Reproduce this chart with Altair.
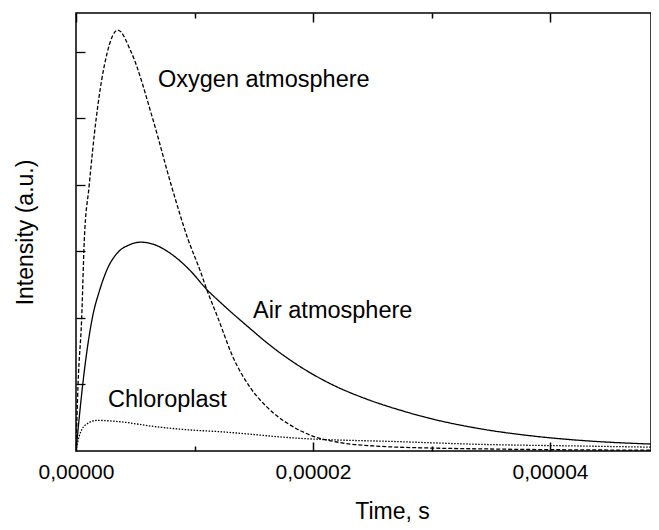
import altair as alt
import pandas as pd

# ---- data (time in s, intensity in a.u.) ----
oxygen_t = [0, 0.17e-6, 0.48e-6, 0.70e-6, 1.10e-6, 1.69e-6, 2.62e-6, 3.52e-6, 4.70e-6,
            6.50e-6, 8.08e-6, 9.48e-6, 10.46e-6, 11.03e-6, 11.98e-6, 13.25e-6, 14.68e-6,
            16.12e-6, 17.81e-6, 19.75e-6, 22.53e-6, 25.7e-6, 29.9e-6, 35.0e-6, 40.0e-6, 49.2e-6]
oxygen_v = [0, 0.99, 2.00, 3.17, 3.97, 4.98, 5.98, 6.33, 5.98,
            4.98, 3.97, 3.17, 2.72, 2.43, 2.00, 1.41, 0.96,
            0.66, 0.42, 0.24, 0.12, 0.07, 0.045, 0.03, 0.02, 0.012]

air_t = [0, 0.3e-6, 0.6e-6, 1.0e-6, 1.4e-6, 2.0e-6, 2.7e-6, 3.5e-6, 4.5e-6, 5.5e-6,
         6.5e-6, 7.9e-6, 9.6e-6, 11.03e-6, 12.15e-6, 13.27e-6, 14.7e-6, 16.09e-6,
         18.90e-6, 21.71e-6, 24.53e-6, 27.34e-6, 29.87e-6, 34.09e-6, 38.31e-6,
         42.53e-6, 49.2e-6]
air_v = [0, 0.55, 1.05, 1.60, 2.02, 2.42, 2.76, 2.98, 3.10, 3.14,
         3.11, 2.98, 2.72, 2.43, 2.24, 2.06, 1.84, 1.63,
         1.27, 0.99, 0.78, 0.615, 0.49, 0.335, 0.23,
         0.16, 0.10]

chloro_t = [0, 0.25e-6, 0.48e-6, 1.04e-6, 1.75e-6, 3.71e-6, 6.52e-6, 9.34e-6, 12.15e-6,
            18.9e-6, 27.34e-6, 34.1e-6, 42.5e-6, 49.2e-6]
chloro_v = [0, 0.21, 0.32, 0.42, 0.46, 0.44, 0.37, 0.32, 0.29,
            0.19, 0.14, 0.10, 0.075, 0.056]

series_names = ["Oxygen atmosphere", "Air atmosphere", "Chloroplast"]

label_text = ["Oxygen atmosphere", "Air atmosphere", "Chloroplast"]
label_t = [6.92e-6, 14.94e-6, 2.70e-6]
label_v = [5.47, 2.00, 0.66]

x_major = [0, 0.00002, 0.00004]
x_minor = [0.00001, 0.00003]
y_ticks = [1, 2, 3, 4, 5, 6]
x_domain = [0, 4.852e-5]
y_domain = [0, 6.586]

# ---- tables ----
rows = []
for name, ts, vs in zip(series_names, [oxygen_t, air_t, chloro_t], [oxygen_v, air_v, chloro_v]):
    for t, v in zip(ts, vs):
        rows.append({"series": name, "t": t, "v": v})
df = pd.DataFrame(rows)
labels_df = pd.DataFrame({"text": label_text, "t": label_t, "v": label_v})

FONT = "Liberation Sans"
xs = alt.Scale(domain=x_domain, nice=False, zero=False)
ys = alt.Scale(domain=y_domain, nice=False, zero=False)

base = alt.Chart(df)

lines = base.mark_line(interpolate="monotone", strokeWidth=1.3, color="black", clip=True).encode(
    x=alt.X("t:Q", scale=xs, axis=alt.Axis(
        orient="bottom", values=x_major, ticks=False, domain=False, grid=False,
        labelExpr="replace(format(datum.value, '.5f'), '.', ',')",
        labelFont=FONT, labelFontSize=21, labelColor="black", labelPadding=10,
        labelFlush=False, labelOverlap=False,
        title="Time, s", titleFont=FONT, titleFontSize=23, titleFontWeight="normal",
        titleColor="black", titleX=316, titleY=67, titleAlign="center",
        titleBaseline="alphabetic")),
    y=alt.Y("v:Q", scale=ys, axis=alt.Axis(
        orient="left", labels=False, ticks=False, domain=False, grid=False,
        title="Intensity (a.u.)", titleFont=FONT, titleFontSize=23,
        titleFontWeight="normal", titleColor="black", titleAngle=-90,
        titleX=-44, titleY=219, titleAlign="center", titleBaseline="alphabetic")),
    strokeDash=alt.StrokeDash("series:N", scale=alt.Scale(
        domain=series_names, range=[[4, 2], [1, 0], [1.5, 1.5]]), legend=None),
    detail="series:N",
)


def tick_layer(orient, values, size, yaxis=None):
    xa = alt.Axis(orient=orient, values=values, labels=False, domain=False, grid=False,
                  title=None, ticks=True, tickSize={"expr": str(-size)},
                  tickColor="black", tickWidth=1.5)
    return base.mark_point(opacity=0).encode(
        x=alt.X("t:Q", scale=xs, axis=xa),
        y=alt.Y("v:Q", scale=ys, axis=yaxis),
    )


ytick_axis = alt.Axis(orient="left", values=y_ticks, labels=False, domain=False, grid=False,
                      title=None, ticks=True, tickSize={"expr": "-9"},
                      tickColor="black", tickWidth=1.3)

l_bmaj = tick_layer("bottom", x_major, 9, ytick_axis)
l_bmin = tick_layer("bottom", x_minor, 5)
l_tmaj = tick_layer("top", x_major, 9)
l_tmin = tick_layer("top", x_minor, 5)

texts = alt.Chart(labels_df).mark_text(
    align="left", baseline="alphabetic", font=FONT, fontSize=23.5, color="black"
).encode(
    x=alt.X("t:Q", scale=xs, axis=None),
    y=alt.Y("v:Q", scale=ys, axis=None),
    text="text:N",
)

chart = alt.layer(lines, l_bmaj, l_bmin, l_tmaj, l_tmin, texts).resolve_axis(
    x="independent", y="independent"
).properties(
    width=575, height=438,
    padding={"left": 68, "top": 5, "right": 0, "bottom": 71},
    autosize=alt.AutoSizeParams(type="none"),
    background="white",
).configure_view(stroke="black", strokeWidth=1.5)

chart.save("out.html", embed_options={"renderer": "svg", "actions": False})
